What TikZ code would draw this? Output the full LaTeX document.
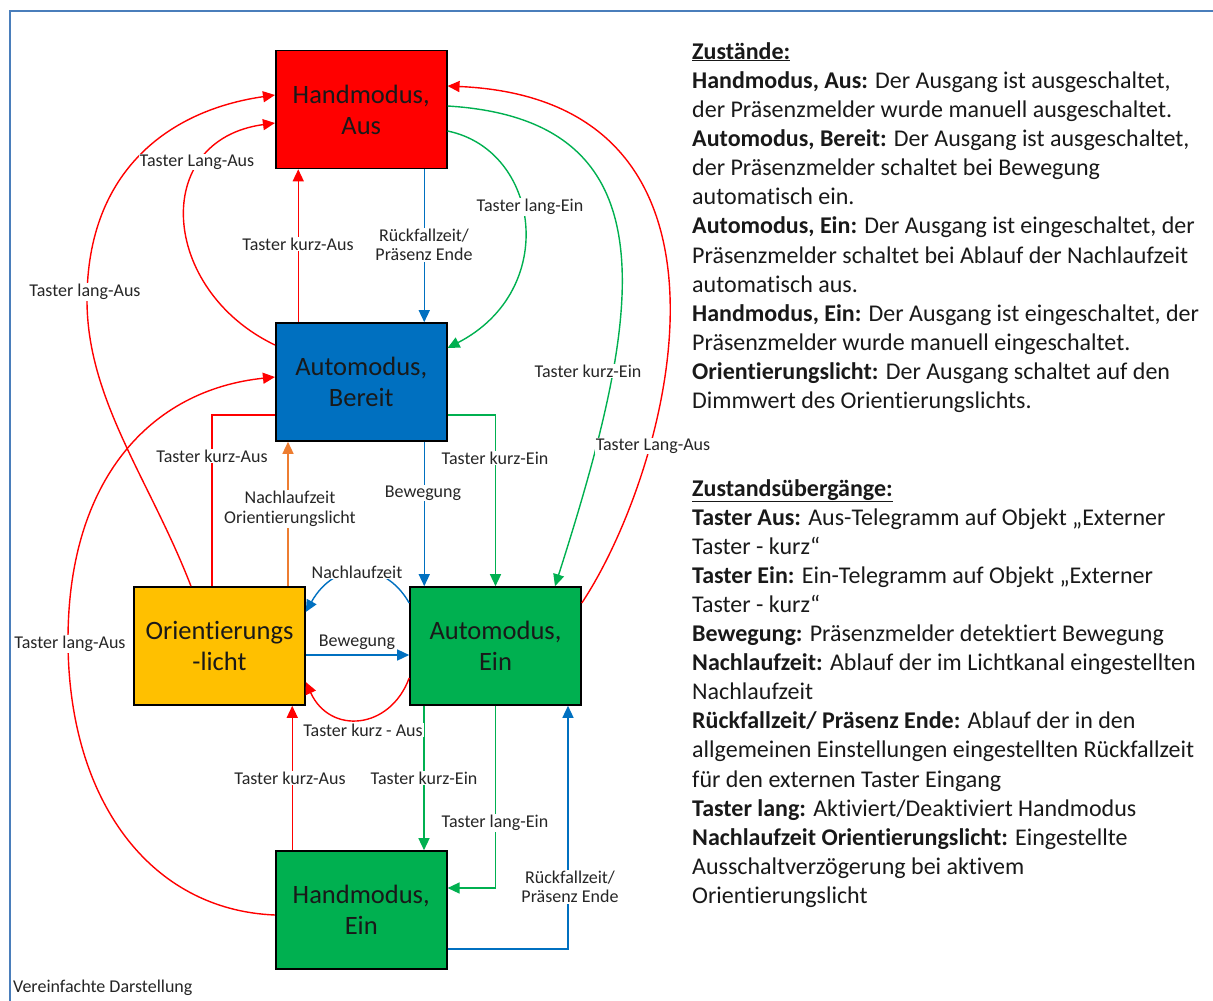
\documentclass[tikz,border=0pt]{standalone}
\usepackage{fontspec}
\setmainfont{Carlito}[Ligatures=NoCommon]
\usetikzlibrary{arrows.meta}
\definecolor{boxred}{HTML}{FF0000}
\definecolor{boxblue}{HTML}{0070C0}
\definecolor{boxyellow}{HTML}{FFC000}
\definecolor{boxgreen}{HTML}{00B050}
\definecolor{lineorange}{HTML}{ED7D31}
\definecolor{framebl}{HTML}{4A7EBB}
\begin{document}
\begin{tikzpicture}[x=1pt,y=-1pt,
	state/.style={draw=black,line width=1.6pt,minimum width=171pt,minimum height=118pt,align=center,font=\fontsize{26.5}{31}\selectfont,text=black!90},
	tr/.style={line width=1.4pt,-{Triangle[length=12pt,width=11pt]}},
	lbl/.style={fill=white,inner sep=1pt,align=center,font=\fontsize{18}{19.5}\selectfont,text=black!85}]
	\useasboundingbox (0,0) rectangle (1213,1001);
	\draw[framebl,line width=2pt] (10,1001) -- (10,10.5) -- (1213,10.5);

	\node[state,fill=boxred] (handaus) at (361.25,109.5) {Handmodus,\\Aus};
	\node[state,fill=boxblue] (autobereit) at (361.25,382) {Automodus,\\Bereit};
	\node[state,fill=boxyellow] (orient) at (219.5,646) {Orientierungs\\-licht};
	\node[state,fill=boxgreen] (autoein) at (495.5,646) {Automodus,\\Ein};
	\node[state,fill=boxgreen] (handein) at (361.25,910) {Handmodus,\\Ein};

	\draw[tr,red] ([xshift=-63pt]autobereit.north) -- ([xshift=-63pt]handaus.south);
	\draw[tr,boxblue] ([xshift=63pt]handaus.south) -- ([xshift=63pt]autobereit.north);
	\draw[tr,red] ([xshift=-28.5pt]orient.north) .. controls (150,480) and (87,400) .. (87,300)
		.. controls (87,170) and (170,110) .. ([yshift=14.5pt]handaus.west);
	\draw[tr,red] ([yshift=37pt]autobereit.west) .. controls (160,290) and (150,140) .. ([yshift=-13.5pt]handaus.west);
	\draw[tr,red] ([yshift=43pt]autoein.east) .. controls (670,470) and (770,100) .. ([yshift=23.5pt]handaus.east);
	\draw[tr,boxgreen] ([yshift=-21.5pt]handaus.east) .. controls (540,150) and (560,290) .. ([yshift=34pt]autobereit.east);
	\draw[tr,boxgreen] ([yshift=3.5pt]handaus.east) .. controls (680,120) and (640,320) .. ([xshift=59.5pt]autoein.north);
	\draw[red,line width=1.4pt] ([xshift=-7.5pt]orient.north) |- ([yshift=-33pt]autobereit.west);
	\draw[tr,lineorange] ([xshift=68.5pt]orient.north) -- ([xshift=68.5pt]orient.north |- autobereit.south);
	\draw[tr,boxblue] ([xshift=63pt]autobereit.south) -- ([xshift=63pt]autobereit.south |- autoein.north);
	\draw[tr,boxgreen] ([yshift=-33pt]autobereit.east) -| (autoein.north);
	\draw[tr,boxblue] ([yshift=43pt]autoein.west) .. controls (385,560) and (335,560) .. ([yshift=34pt]orient.east);
	\draw[tr,boxblue] ([yshift=-9pt]orient.east) -- ([yshift=-9pt]autoein.west);
	\draw[tr,red] ([yshift=-32pt]autoein.west) .. controls (390,730) and (330,735) .. ([yshift=-36pt]orient.east);
	\draw[tr,red] ([xshift=-69pt]handein.north) -- ([xshift=-69pt]handein.north |- orient.south);
	\draw[tr,boxgreen] ([xshift=-71.5pt]autoein.south) -- ([xshift=-71.5pt]autoein.south |- handein.north);
	\draw[tr,boxgreen] (autoein.south) |- ([yshift=22pt]handein.east);
	\draw[tr,boxblue] ([yshift=-39pt]handein.east) -| ([xshift=72.5pt]autoein.south);
	\draw[tr,red] ([yshift=-5pt]handein.west) .. controls (150,910) and (68,800) .. (68,640)
		.. controls (68,480) and (150,390) .. ([yshift=5pt]autobereit.west);

	\node[lbl] (kurzaus1) at (298,244) {Taster kurz-Aus};
	\node[lbl] (rueck1) at (424,245) {Rückfallzeit/\\Präsenz Ende};
	\node[lbl] (langaus1) at (85,292) {Taster lang-Aus};
	\node[lbl] (langaus2) at (197,162) {Taster Lang-Aus};
	\node[lbl] (langaus3) at (653,446) {Taster Lang-Aus};
	\node[lbl] (langein1) at (530,207) {Taster lang-Ein};
	\node[lbl] (kurzein1) at (588,371) {Taster kurz-Ein};
	\node[lbl] (kurzaus2) at (212,456) {Taster kurz-Aus};
	\node[lbl] (nachor) at (290,509) {Nachlaufzeit\\Orientierungslicht};
	\node[lbl] (beweg1) at (423,493) {Bewegung};
	\node[lbl] (kurzein2) at (495,458) {Taster kurz-Ein};
	\node[lbl] (nach1) at (357,572) {Nachlaufzeit};
	\node[lbl] (beweg2) at (357,642) {Bewegung};
	\node[lbl] (kurzaus3) at (363,730) {Taster kurz - Aus};
	\node[lbl] (kurzaus4) at (290,778) {Taster kurz-Aus};
	\node[lbl] (kurzein3) at (424,778) {Taster kurz-Ein};
	\node[lbl] (langein2) at (495,823) {Taster lang-Ein};
	\node[lbl] (rueck2) at (570,887) {Rückfallzeit/\\Präsenz Ende};
	\node[lbl] (langaus4) at (70,644) {Taster lang-Aus};
	\node[lbl,anchor=west] (hinweis) at (12,988) {Vereinfachte Darstellung};

	\node[anchor=north west,align=left,inner sep=0pt,font=\fontsize{24}{29.15}\selectfont,text=black!90] (zustaende) at (692,42) {%
		\underline{\textbf{Zustände:}}\\
		\textbf{Handmodus, Aus:} Der Ausgang ist ausgeschaltet,\\
		der Präsenzmelder wurde manuell ausgeschaltet.\\
		\textbf{Automodus, Bereit:} Der Ausgang ist ausgeschaltet,\\
		der Präsenzmelder schaltet bei Bewegung\\
		automatisch ein.\\
		\textbf{Automodus, Ein:} Der Ausgang ist eingeschaltet, der\\
		Präsenzmelder schaltet bei Ablauf der Nachlaufzeit\\
		automatisch aus.\\
		\textbf{Handmodus, Ein:} Der Ausgang ist eingeschaltet, der\\
		Präsenzmelder wurde manuell eingeschaltet.\\
		\textbf{Orientierungslicht:} Der Ausgang schaltet auf den\\
		Dimmwert des Orientierungslichts.};
	\node[anchor=north west,align=left,inner sep=0pt,font=\fontsize{24}{29.1}\selectfont,text=black!90] (uebergaenge) at (692,479) {%
		\underline{\textbf{Zustandsübergänge:}}\\
		\textbf{Taster Aus:} Aus-Telegramm auf Objekt „Externer\\
		Taster - kurz“\\
		\textbf{Taster Ein:} Ein-Telegramm auf Objekt „Externer\\
		Taster - kurz“\\
		\textbf{Bewegung:} Präsenzmelder detektiert Bewegung\\
		\textbf{Nachlaufzeit:} Ablauf der im Lichtkanal eingestellten\\
		Nachlaufzeit\\
		\textbf{Rückfallzeit/ Präsenz Ende:} Ablauf der in den\\
		allgemeinen Einstellungen eingestellten Rückfallzeit\\
		für den externen Taster Eingang\\
		\textbf{Taster lang:} Aktiviert/Deaktiviert Handmodus\\
		\textbf{Nachlaufzeit Orientierungslicht:} Eingestellte\\
		Ausschaltverzögerung bei aktivem\\
		Orientierungslicht};
\end{tikzpicture}
\end{document}
